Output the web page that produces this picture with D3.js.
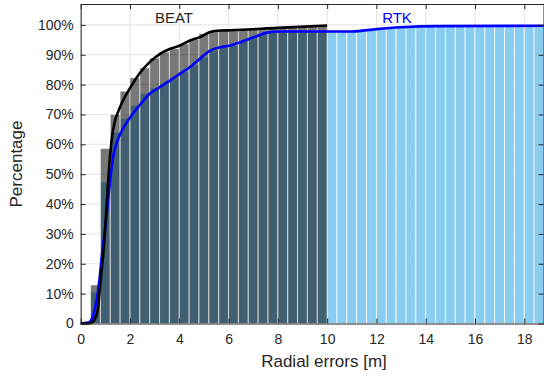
<!doctype html>
<html lang=en>
<head>
<meta charset=utf-8>
<title>Radial errors</title>
<script src="https://d3js.org/d3.v7.min.js"></script>
<style>
  body { margin: 0; background: #fff; }
  text { font-family: "Liberation Sans", Arial, Helvetica, sans-serif; fill: #262626; }
</style>
</head>
<body>
<div id="container"></div>
<script>
// cumulative histograms, 0.4 m bins starting at 0 (percent)
var binWidth = 0.4;
var beatBars = [0, 12.9, 58.6, 70, 77.8, 82.3, 85.6, 88.9, 90.9, 92, 93.7, 95.2, 97.1, 97.9,
    98.2, 98.3, 98.4, 98.6, 98.8, 99.0, 99.2, 99.4, 99.5, 99.7, 99.8];
var rtkBars = [0.5, 10.6, 47.4, 64.1, 68.8, 73.0, 77, 78.9, 80.5, 82.3, 84.3, 86.5, 89.2, 91.5,
    92.4, 93.2, 94.5, 96, 97.2, 97.7,
    97.8, 97.8, 97.8, 97.8, 97.8, 97.8, 97.8, 97.8,
    98.0, 98.4, 98.7, 98.9, 99.1, 99.3, 99.5, 99.6,
    99.7, 99.7, 99.7, 99.7, 99.7, 99.7, 99.7, 99.7, 99.7, 99.7, 99.7];

// CDF curves [error m, percent]
var beatCdf = [[0,0],[0.3,0],[0.5,0.6],[0.6,2],[0.7,5],[0.76,10],[0.84,17],[0.92,23.5],[1.0,33],
    [1.1,46],[1.2,57],[1.28,63],[1.38,67.5],[1.5,70.5],[1.65,73.5],[2.0,78.8],[2.41,84],[2.81,87.6],
    [3.22,90.3],[3.63,92],[4.03,93.1],[4.44,94.8],[4.84,95.9],[5.25,97.6],[5.66,98.1],[6.06,98.2],
    [8,99.0],[10,99.8]];
var rtkCdf = [[0,0],[0.3,0.3],[0.45,1.5],[0.55,4],[0.65,8],[0.75,14],[0.85,22],[0.95,29],[1.04,35],
    [1.14,43.5],[1.24,51],[1.32,56],[1.42,59.5],[1.55,62.5],[1.7,65],[2.05,69.5],[2.41,73.3],
    [2.81,77],[3.22,79.2],[3.63,81.4],[4.03,83.7],[4.44,85.9],[4.84,88.7],[5.25,91.4],[5.66,92.5],
    [6.06,93.1],[6.5,94.3],[7.0,95.8],[7.6,97.5],[8.0,97.8],[11,97.8],[12,98.6],[13,99.2],
    [14.45,99.6],[18.8,99.7]];

var xTicks = [0, 2, 4, 6, 8, 10, 12, 14, 16, 18];
var yTicks = [0, 10, 20, 30, 40, 50, 60, 70, 80, 90, 100];

var w = 544, h = 378;
var pL = 80.7, pR = 544, pT = 4, pB = 323.5;

var svg = d3.select("#container").append("svg")
    .attr("width", w).attr("height", h);

var x = d3.scaleLinear().domain([0, 18.8]).range([pL, pR]);
var y = d3.scaleLinear().domain([0, 107]).range([pB, pT]);

// grid
svg.append("g").selectAll("line").data(xTicks).enter().append("line")
    .attr("x1", d => x(d)).attr("x2", d => x(d)).attr("y1", pT).attr("y2", pB)
    .attr("stroke", "#e3e3e3").attr("stroke-width", 1);
svg.append("g").selectAll("line").data(yTicks).enter().append("line")
    .attr("x1", pL).attr("x2", pR).attr("y1", d => y(d)).attr("y2", d => y(d))
    .attr("stroke", "#e3e3e3").attr("stroke-width", 1);

// RTK bars (light blue), then BEAT bars (translucent black) on top
svg.append("g").selectAll("rect").data(rtkBars).enter().append("rect")
    .attr("x", (d, i) => x(i * binWidth))
    .attr("width", (d, i) => x((i + 1) * binWidth) - x(i * binWidth))
    .attr("y", d => y(d))
    .attr("height", d => pB - y(d))
    .attr("fill", "#89cdf1")
    .attr("stroke", "#ffffff").attr("stroke-opacity", 0.75).attr("stroke-width", 1);

svg.append("g").selectAll("rect").data(beatBars).enter().append("rect")
    .attr("x", (d, i) => x(i * binWidth))
    .attr("width", (d, i) => x((i + 1) * binWidth) - x(i * binWidth))
    .attr("y", d => y(d))
    .attr("height", d => pB - y(d))
    .attr("fill", "#000000").attr("fill-opacity", 0.53)
    .attr("stroke", "#ffffff").attr("stroke-opacity", 0.55).attr("stroke-width", 1);

// CDF lines
var line = d3.line().x(d => x(d[0])).y(d => y(d[1])).curve(d3.curveMonotoneX);
svg.append("path").datum(rtkCdf).attr("d", line)
    .attr("fill", "none").attr("stroke", "#0000ff").attr("stroke-width", 2.6);
svg.append("path").datum(beatCdf).attr("d", line)
    .attr("fill", "none").attr("stroke", "#000000").attr("stroke-width", 2.6);

// axes (ticks inward, box on)
var axCol = "#262626";
var gx = svg.append("g").attr("transform", "translate(0," + pB + ")")
    .call(d3.axisBottom(x).tickValues(xTicks).tickSize(-5).tickSizeOuter(0).tickPadding(11));
var gxt = svg.append("g").attr("transform", "translate(0," + pT + ")")
    .call(d3.axisTop(x).tickValues(xTicks).tickSize(-5).tickSizeOuter(0).tickFormat(""));
var gy = svg.append("g").attr("transform", "translate(" + pL + ",0)")
    .call(d3.axisLeft(y).tickValues(yTicks).tickSize(-5).tickSizeOuter(0).tickPadding(7)
        .tickFormat(d => d === 0 ? "0" : d + "%"));
var gyr = svg.append("g").attr("transform", "translate(" + (pR - 0.5) + ",0)")
    .call(d3.axisRight(y).tickValues(yTicks).tickSize(-5).tickSizeOuter(0).tickFormat(""));

[gx, gxt, gy, gyr].forEach(function(g) {
    g.select(".domain").attr("stroke", axCol);
    g.selectAll(".tick line").attr("stroke", axCol);
    g.selectAll("text").style("font-size", "14px").attr("fill", axCol);
});

// labels
svg.append("text").attr("x", 324).attr("y", 367).attr("text-anchor", "middle")
    .style("font-size", "17px").text("Radial errors [m]");
svg.append("text").attr("transform", "translate(22,164) rotate(-90)").attr("text-anchor", "middle")
    .style("font-size", "17px").text("Percentage");

svg.append("text").attr("x", 174).attr("y", 22.7).attr("text-anchor", "middle")
    .style("font-size", "15px").text("BEAT");
svg.append("text").attr("x", 397).attr("y", 22.7).attr("text-anchor", "middle")
    .style("font-size", "15px").style("fill", "#0000ff").text("RTK");
</script>
</body>
</html>
